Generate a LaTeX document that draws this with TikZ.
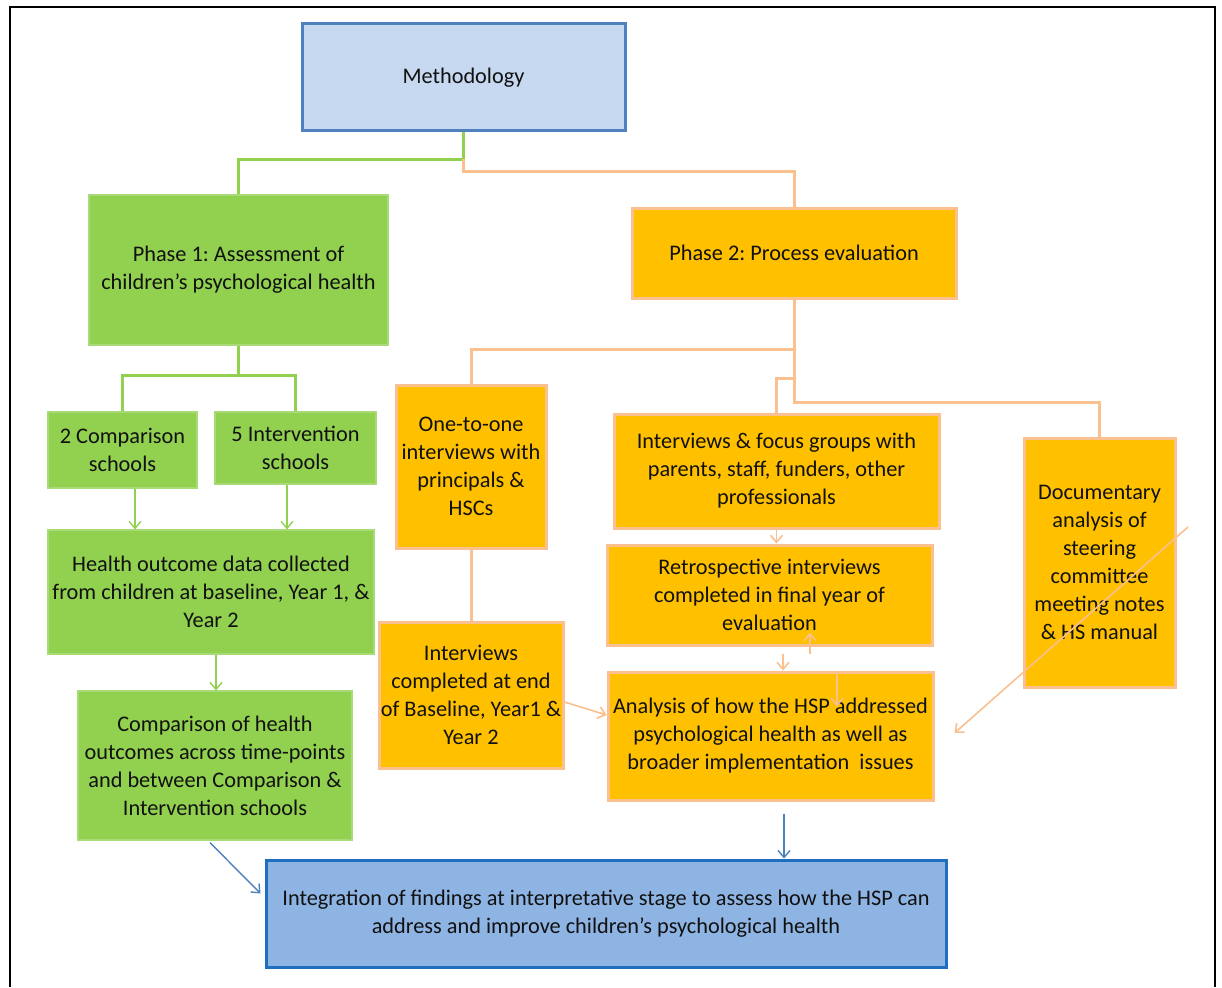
\documentclass[tikz,border=0pt]{standalone}
\usepackage{fontspec}
\setmainfont{Carlito}
\usetikzlibrary{arrows.meta,calc}
\definecolor{gfill}{HTML}{92D050}
\definecolor{gedge}{HTML}{A9DA78}
\definecolor{ofill}{HTML}{FFC000}
\definecolor{oedge}{HTML}{FAC090}
\definecolor{bfill}{HTML}{C6D9F1}
\definecolor{bedge}{HTML}{4F81BD}
\definecolor{ifill}{HTML}{8EB4E3}
\definecolor{iedge}{HTML}{1F6EC0}
\definecolor{txt}{HTML}{111111}
\frenchspacing
\begin{document}
\begin{tikzpicture}[x=1pt,y=-1pt,
  every node/.style={font=\fontsize{22.3}{28}\selectfont, text=txt, align=center, inner sep=0pt},
  gbox/.style={rectangle, fill=gfill, draw=gedge, line width=1.2pt},
  obox/.style={rectangle, fill=ofill, draw=oedge, line width=3pt},
  bbox/.style={rectangle, fill=bfill, draw=bedge, line width=3pt},
  ibox/.style={rectangle, fill=ifill, draw=iedge, line width=3pt},
  gline/.style={draw=gfill, line width=3pt},
  pline/.style={draw=oedge, line width=3pt},
  tip/.style={-{Straight Barb[length=7pt,width=12pt]}},
  garrow/.style={tip, draw=gfill, line width=1.4pt},
  parrow/.style={tip, draw=oedge, line width=1.6pt},
  barrow/.style={tip, draw=bedge, line width=1.4pt},
  frame/.style={draw=black, line width=1.8pt}]
\useasboundingbox (0,0) rectangle (1222,987);
\fill[white] (0,0) rectangle (1222,987);
% outer frame: left, top and right edges
\draw[frame] (10,987) -- (10,7) -- (1215,7) -- (1215,987);

% boxes
\node[bbox, minimum width=323, minimum height=107] (meth) at (463.5,77.5) {Methodology};
\node[gbox, minimum width=299, minimum height=150] (p1) at (238.5,270) {Phase 1: Assessment of\\children’s psychological health};
\node[obox, minimum width=324, minimum height=90] (p2) at (794,253) {Phase 2: Process evaluation};
\node[gbox, minimum width=149, minimum height=76] (cmp) at (122.5,450) {2 Comparison\\schools};
\node[gbox, minimum width=161, minimum height=72] (int) at (295.5,448) {5 Intervention\\schools};
\node[gbox, minimum width=326, minimum height=124] (hod) at (211,592) {Health outcome data collected\\from children at baseline, Year 1, \&\\Year 2};
\node[gbox, minimum width=274, minimum height=149] (coh) at (215,765.5) {Comparison of health\\outcomes across time-points\\and between Comparison \&\\Intervention schools};
\node[obox, minimum width=150, minimum height=163] (oto) at (471,466.5) {One-to-one\\interviews with\\principals \&\\HSCs};
\node[obox, minimum width=184, minimum height=146] (icb) at (471,695) {Interviews\\completed at end\\of Baseline, Year1 \&\\Year 2};
\node[obox, minimum width=325, minimum height=114] (ifg) at (776.5,471) {Interviews \& focus groups with\\parents, staff, funders, other\\professionals};
\node[obox, minimum width=325, minimum height=100] (ret) at (769.5,595) {Retrospective interviews\\completed in final year of\\evaluation};
\node[obox, minimum width=325, minimum height=128] (ana) at (770.5,736) {Analysis of how the HSP addressed\\psychological health as well as\\broader implementation\ \ issues};
\node[obox, minimum width=151, minimum height=249] (doc) at (1099.5,562.5) {Documentary\\analysis of\\steering\\committee\\meeting notes\\\& HS manual};
\node[ibox, minimum width=680, minimum height=107] (itg) at (606,913.5) {Integration of findings at interpretative stage to assess how the HSP can\\address and improve children’s psychological health};

% tree lines from the top box
\draw[gline] (meth.south) -- ++(0,27) -| (p1.north);
\draw[pline] ($(meth.south)+(0,27)$) -- ++(0,12) -| (p2.north);

% phase 1 branch
\draw[gline] (p1.south) -- ++(0,30) -| (cmp.north);
\draw[gline] (p1.south) -- ++(0,30) -| (int.north);
\draw[garrow] ([xshift=12.5pt]cmp.south) -- ([xshift=12.5pt]cmp.south |- hod.north);
\draw[garrow] ([xshift=-8.5pt]int.south) -- ([xshift=-8.5pt]int.south |- hod.north);
\draw[garrow] ([xshift=5pt]hod.south) -- ([xshift=5pt]hod.south |- coh.north);

% phase 2 branch
\draw[pline] (p2.south) -- ++(0,50) -| (oto.north);
\draw[pline] (p2.south) -- ++(0,103) -| (doc.north);
\draw[pline] (p2.south) -- ++(0,79) -| (ifg.north);
\draw[pline] (oto.south) -- (icb.north);
\draw[parrow] ([yshift=-7pt]icb.east) -- ([yshift=21pt]ana.west);
\draw[parrow] (ifg.south) -- (ifg.south |- ret.north);
\draw[parrow] ([xshift=13.5pt,yshift=-7pt]ret.south) -- ([xshift=13.5pt]ret.south |- ana.north);
\draw[parrow] ([xshift=40.5pt,yshift=-7pt]ret.south) -- ([xshift=40.5pt,yshift=14pt]ret.south);
\draw[parrow] ([xshift=66.5pt,yshift=-3pt]ana.north) -- ([xshift=66.5pt,yshift=-36pt]ana.north);
\coordinate (dstart) at (1188,527);
\draw[parrow] (dstart) -- ([xshift=20pt,yshift=3pt]ana.east);

% into the integration box
\draw[barrow] ([xshift=-5pt,yshift=-2pt]coh.south) -- ([xshift=-4pt,yshift=20pt]itg.west);
\draw[barrow] ([xshift=13.5pt,yshift=-12pt]ana.south) -- ([xshift=13.5pt]ana.south |- itg.north);
\end{tikzpicture}
\end{document}
